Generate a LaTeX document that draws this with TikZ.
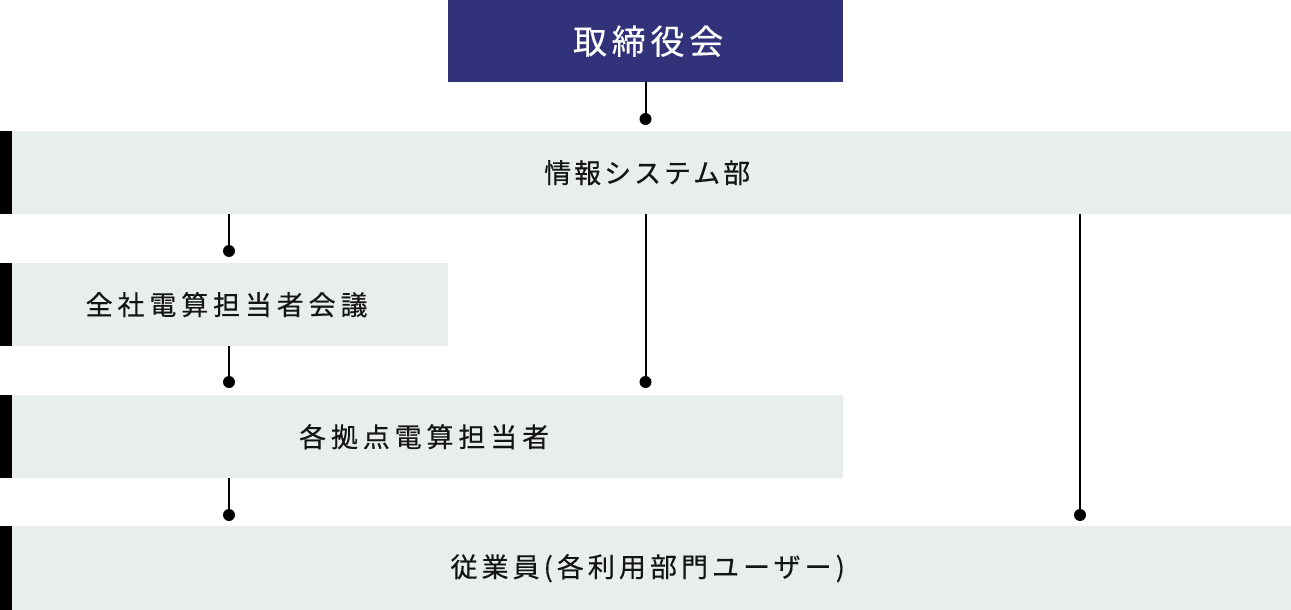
\documentclass[tikz,border=0pt]{standalone}
\usepackage{fontspec}
\newfontfamily\jpA[LetterSpace=14,FakeBold=0.4]{Noto Sans CJK JP}
\newfontfamily\jpB[LetterSpace=18,FakeBold=0.4]{Noto Sans CJK JP}
\newfontfamily\jpC[LetterSpace=11,FakeBold=0.4]{Noto Sans CJK JP}
\newfontfamily\jpD[LetterSpace=15,FakeBold=0.4]{Noto Sans CJK JP}
\definecolor{navy}{RGB}{50,50,122}
\definecolor{panel}{RGB}{232,238,238}
\definecolor{ink}{RGB}{20,20,20}
\newcommand{\lead}[1]{\hspace*{#1em}}
\begin{document}
\begin{tikzpicture}[x=1pt,y=-1pt,
  topbox/.style={fill=navy,text=white,inner sep=0pt,anchor=north west,font=\jpA\fontsize{34}{40}\selectfont},
  graybox/.style={fill=panel,text=ink,inner sep=0pt,anchor=north west,font=\jpB\fontsize{27}{32}\selectfont},
  conn/.style={line width=2pt,draw=black},
  dotmark/.style={fill=black}]
\useasboundingbox (0,0) rectangle (1291,610);
\node[topbox,minimum width=395pt,minimum height=82pt] (board) at (448,0) {\lead{0.14}取締役会};
\node[graybox,minimum width=1291pt,minimum height=83pt,font=\jpC\fontsize{27}{32}\selectfont] (info) at (0,131) {\lead{0.11}情報システム部};
\node[graybox,minimum width=448pt,minimum height=83pt] (meet) at (0,263) {\lead{0.18}全社電算担当者会議};
\node[graybox,minimum width=843pt,minimum height=83pt] (site) at (0,395) {\lead{0.18}各拠点電算担当者};
\node[graybox,minimum width=1291pt,minimum height=84pt,font=\jpD\fontsize{27}{32}\selectfont] (staff) at (0,526) {\lead{0.15}従業員(各利用部門ユーザー)};
\foreach \b in {info,meet,site,staff}{
  \fill[black] (\b.north west) rectangle ([xshift=12pt]\b.south west);
}
\coordinate (d1) at (645.5,119);
\coordinate (d2) at (229,251);
\coordinate (d3) at (645.5,382);
\coordinate (d4) at (1080,515);
\coordinate (d5) at (229,382);
\coordinate (d6) at (229,515);
\draw[conn] (board.south -| d1) -- (d1);
\draw[conn] (info.south -| d2) -- (d2);
\draw[conn] (info.south -| d3) -- (d3);
\draw[conn] (info.south -| d4) -- (d4);
\draw[conn] (meet.south -| d5) -- (d5);
\draw[conn] (site.south -| d6) -- (d6);
\foreach \d in {d1,d2,d3,d4,d5,d6}{\fill[dotmark] (\d) circle (6pt);}
\end{tikzpicture}
\end{document}
